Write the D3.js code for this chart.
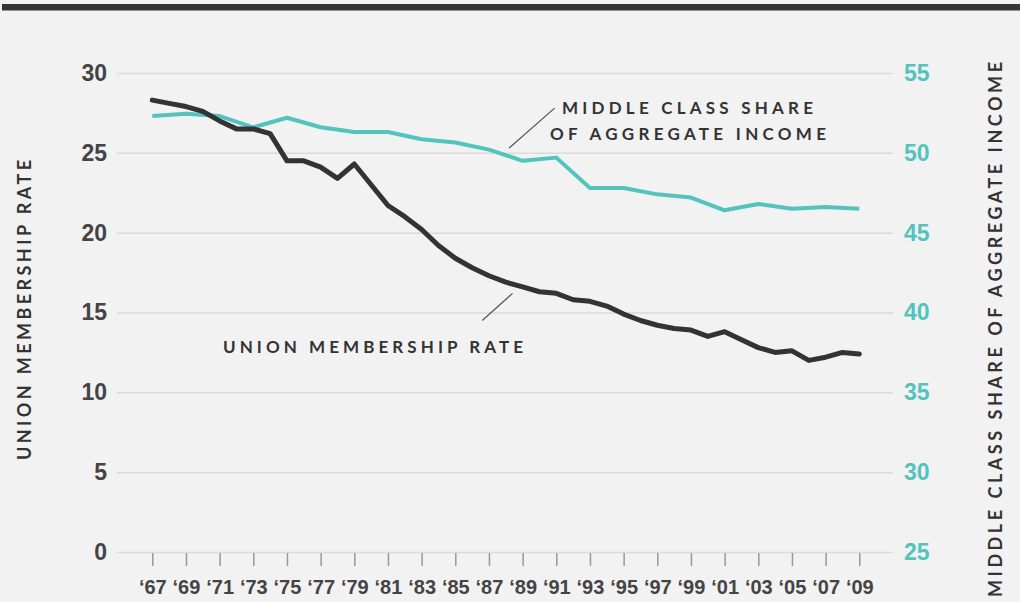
<!DOCTYPE html>
<html>
<head>
<meta charset="utf-8">
<script src="https://cdn.jsdelivr.net/npm/d3@7"></script>
<style>
  body { margin: 0; background: #f2f2f2; }
  svg { display: block; font-family: Lato, "Open Sans", sans-serif; }
  .grid line { stroke: #dadada; stroke-width: 1.5; }
  .grid .domain { display: none; }
  .yleft text, .yright text { font-size: 23px; font-weight: 700; }
  .yleft text { fill: #444; }
  .yright text { fill: #52c3bd; }
  .yleft .domain, .yright .domain, .yleft line, .yright line { display: none; }
  .xaxis .domain { display: none; }
  .xaxis line { stroke: #999; stroke-width: 1.5; }
  .xaxis text { font-size: 20px; fill: #444; font-weight: 600; }
  .title { font-size: 18px; font-weight: 700; fill: #333; }
  .note { font-size: 17px; font-weight: 700; fill: #333; }
</style>
</head>
<body>
<div class="chart"></div>
<script>
// union membership rate, yearly
const unionYears = d3.range(1967, 2010);
const unionRate = [
  28.3, 28.1, 27.9, 27.6, 27.0, 26.5, 26.5, 26.2, 24.5, 24.5,
  24.1, 23.4, 24.3, 23.0, 21.7, 21.0, 20.2, 19.2, 18.4, 17.8,
  17.3, 16.9, 16.6, 16.3, 16.2, 15.8, 15.7, 15.4, 14.9, 14.5,
  14.2, 14.0, 13.9, 13.5, 13.8, 13.3, 12.8, 12.5, 12.6, 12.0,
  12.2, 12.5, 12.4
];

// middle class share of aggregate income, every other year
const shareYears = d3.range(1967, 2010, 2);
const shareValues = [
  52.3, 52.45, 52.3, 51.6, 52.2, 51.6, 51.3, 51.3, 50.85, 50.65,
  50.2, 49.5, 49.7, 47.8, 47.8, 47.4, 47.2, 46.4, 46.8, 46.5,
  46.6, 46.5
];

const xTicks = d3.range(1967, 2010, 2);
const leftTicks = [0, 5, 10, 15, 20, 25, 30];
const rightTicks = [25, 30, 35, 40, 45, 50, 55];

const width = 1020;
const height = 602;

const svg = d3.select('.chart')
  .append('svg')
  .attr('width', width)
  .attr('height', height);

svg.append('rect')
  .attr('width', width)
  .attr('height', height)
  .attr('fill', '#f2f2f2');

// top rule
svg.append('rect')
  .attr('x', 2)
  .attr('y', 4)
  .attr('width', width - 2)
  .attr('height', 6.5)
  .attr('fill', '#333');

// Scales
const x = d3.scaleLinear().domain([1967, 2009]).range([152.3, 859.3]);
const yL = d3.scaleLinear().domain([0, 30]).range([552, 73]);
const yR = d3.scaleLinear().domain([25, 55]).range([552, 73]);

const gridLeft = 117;
const gridRight = 893;

// Gridlines
svg.append('g')
  .attr('class', 'grid')
  .attr('transform', 'translate(' + gridLeft + ',0)')
  .call(d3.axisRight(yL).tickValues(leftTicks).tickSize(gridRight - gridLeft).tickFormat(''));

// Left axis labels
svg.append('g')
  .attr('class', 'yleft')
  .attr('transform', 'translate(' + gridLeft + ',0)')
  .call(d3.axisLeft(yL).tickValues(leftTicks).tickSize(0).tickPadding(10));

// Right axis labels
svg.append('g')
  .attr('class', 'yright')
  .attr('transform', 'translate(' + gridRight + ',0)')
  .call(d3.axisRight(yR).tickValues(rightTicks).tickSize(0).tickPadding(11));

// X axis
const xg = svg.append('g')
  .attr('class', 'xaxis')
  .attr('transform', 'translate(0,' + yL(0) + ')')
  .call(d3.axisBottom(x).tickValues(xTicks).tickSize(14).tickPadding(14)
    .tickFormat(d => '\u2018' + String(d).slice(2)));
xg.selectAll('.tick line').attr('y1', 1);

// Axis titles
svg.append('text')
  .attr('class', 'title')
  .attr('transform', 'translate(31,460) rotate(-90)')
  .attr('textLength', 300)
  .attr('lengthAdjust', 'spacing')
  .text('UNION MEMBERSHIP RATE');

svg.append('text')
  .attr('class', 'title')
  .attr('transform', 'translate(1002,597) rotate(-90)')
  .attr('textLength', 535)
  .attr('lengthAdjust', 'spacing')
  .text('MIDDLE CLASS SHARE OF AGGREGATE INCOME');

// Lines
const unionLine = d3.line()
  .x((d, i) => x(unionYears[i]))
  .y(d => yL(d));

const shareLine = d3.line()
  .x((d, i) => x(shareYears[i]))
  .y(d => yR(d));

svg.append('path')
  .datum(shareValues)
  .attr('fill', 'none')
  .attr('stroke', '#52c3bd')
  .attr('stroke-width', 4)
  .attr('stroke-linejoin', 'round')
  .attr('d', shareLine);

svg.append('path')
  .datum(unionRate)
  .attr('fill', 'none')
  .attr('stroke', '#333')
  .attr('stroke-width', 5)
  .attr('stroke-linejoin', 'round')
  .attr('stroke-linecap', 'round')
  .attr('d', unionLine);

// Annotations
svg.append('line')
  .attr('x1', x(1988.2)).attr('y1', yR(50.3))
  .attr('x2', x(1990.9)).attr('y2', yR(52.8))
  .attr('stroke', '#555').attr('stroke-width', 1.2);

svg.append('line')
  .attr('x1', x(1988.4)).attr('y1', yL(16.2))
  .attr('x2', x(1986.6)).attr('y2', yL(14.5))
  .attr('stroke', '#555').attr('stroke-width', 1.2);

svg.append('text')
  .attr('class', 'note')
  .attr('x', 562).attr('y', 113.5)
  .attr('textLength', 251)
  .attr('lengthAdjust', 'spacing')
  .text('MIDDLE CLASS SHARE');

svg.append('text')
  .attr('class', 'note')
  .attr('x', 550).attr('y', 139.5)
  .attr('textLength', 276)
  .attr('lengthAdjust', 'spacing')
  .text('OF AGGREGATE INCOME');

svg.append('text')
  .attr('class', 'note')
  .attr('x', 223).attr('y', 353)
  .attr('textLength', 300)
  .attr('lengthAdjust', 'spacing')
  .text('UNION MEMBERSHIP RATE');
</script>
</body>
</html>
